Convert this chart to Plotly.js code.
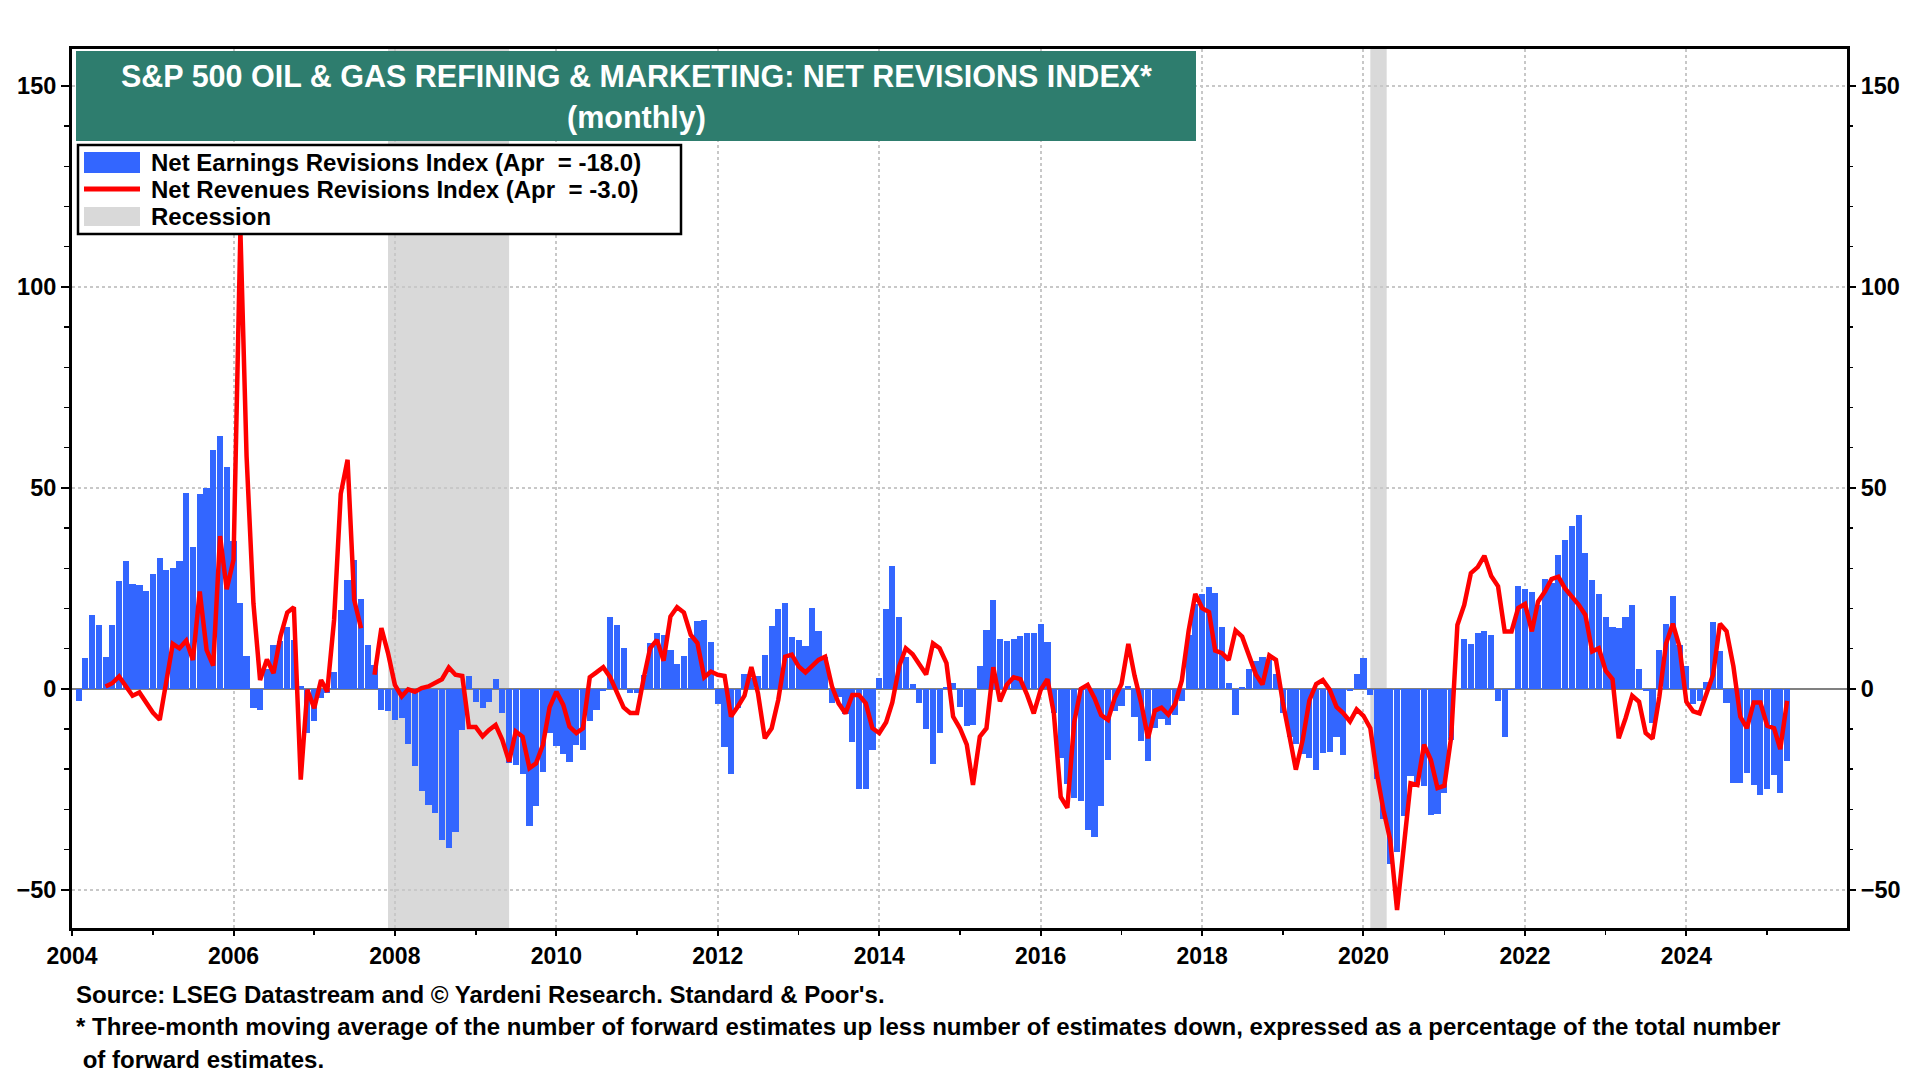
<!DOCTYPE html>
<html>
<head>
<meta charset="utf-8">
<script src="https://cdn.plot.ly/plotly-3.0.1.min.js"></script>
<style>
  html, body { margin: 0; padding: 0; background: #fff; }
  #fig { width: 1920px; height: 1080px; }
</style>
</head>
<body>
<div id="fig"></div>
<script>
// monthly series, first value = Jan 2004
const startYear = 2004;

// Net Earnings Revisions Index (blue bars)
const earnings = [
  null, -3.1, 7.6, 18.4, 15.8, 7.9, 15.8, 26.9, 31.7, 26, 25.9, 24.4,          // 2004
  28.5, 32.5, 29.6, 30, 31.7, 48.8, 35.2, 48.5, 50, 59.5, 63, 55.3,             // 2005
  36.7, 21.3, 8.2, -4.8, -5.2, 5, 11, 12, 15.5, 12.2, 0.6, -11,                 // 2006
  -8.1, -2.3, -1, 4.3, 19.7, 27.1, 32.1, 22.3, 11, 6, -5.2, -5.6,               // 2007
  -7.7, -7.3, -13.6, -19.3, -25.5, -28.8, -30.9, -37.6, -39.6, -35.7, -10.2, 3.2, // 2008
  -3.2, -4.8, -3.2, 2.4, -6, -18.5, -18.9, -21.1, -34.2, -29.1, -20.6, -11,     // 2009
  -14.3, -16.2, -18.1, -13.9, -15.2, -8.1, -5.2, -0.5, 17.8, 15.8, 10.1, -1,    // 2010
  -1, 3.5, 11.4, 13.8, 13.3, 9.7, 6.2, 8.3, 12.6, 16.9, 17.2, 11.7,             // 2011
  -3.7, -14.5, -21.1, -4.8, 3.7, 2.7, 3.3, 8.5, 15.7, 19.8, 21.3, 13,           // 2012
  12.2, 10.7, 20.2, 14.4, 8, -3.4, -2, -6.3, -13.3, -25, -25, -15.3,            // 2013
  2.7, 19.8, 30.6, 18, 8, 1.2, -3.5, -10.1, -18.8, -10.9, 0.5, 1.5,             // 2014
  -4.4, -9.3, -8.9, 5.6, 14.7, 22, 12.4, 11.8, 12.4, 13.2, 14, 14,              // 2015
  16.1, 11.6, -6.1, -17.3, -23.7, -27.2, -28, -35.2, -36.9, -29.2, -17.6, -5.4, // 2016
  -4.3, 0.6, -6.9, -12.9, -18, -9.7, -7.5, -9.1, -6.4, -3.1, 13.5, 21.1,        // 2017
  23.5, 25.3, 23.8, 15.5, 1.4, -6.6, 0.4, 5, 7, 8, 7.2, 3.7,                    // 2018
  -6, -11.9, -13.7, -16.3, -17.2, -20.1, -16, -15.7, -12, -16.4, -0.5, 3.7,     // 2019
  7.6, -1.5, -22.5, -32.4, -43.5, -40.7, -31.6, -21.8, -23.9, -24.1, -31.3, -31.1, // 2020
  -26, -12.7, 0, 12.4, 11.1, 13.8, 14.5, 13.4, -2.9, -11.9, -0.3, 25.5,         // 2021
  24.8, 24.2, 20.9, 27.3, 26.3, 33.3, 37, 40.4, 43.3, 33.7, 27, 23.5,           // 2022
  18, 15.5, 15.1, 18, 20.9, 4.9, -0.5, -8.5, 9.7, 16.2, 23.1, 10.9,             // 2023
  5.6, -3.7, -3, 1.8, 16.7, 9.3, -3.6, -23.5, -23.5, -21, -23.9, -26.4,         // 2024
  -25, -21.4, -26, -18                                                          // 2025
];

// Net Revenues Revisions Index (red line)
const revenues = [
  null, null, null, null, null, 0.6, 1.4, 3.1, 0.6, -1.7, -0.9, -3.2,          // 2004
  -5.9, -7.7, 0.6, 11.2, 10.1, 12, 7.2, 24.2, 9.7, 5.8, 38, 24.8,               // 2005
  32.1, 114, 57.8, 21.3, 2.2, 7.3, 3.9, 13, 19, 20.3, -22.6, -0.2,              // 2006
  -4.8, 2.2, -0.7, 17.2, 48.5, 57, 22.1, 15.1, null, 3.5, 15.1, 8.9,            // 2007
  1, -1.9, -0.1, -0.7, 0.2, 0.6, 1.4, 2.4, 5.3, 3.5, 3.2, -9.5,                 // 2008
  -9.5, -11.8, -10.3, -9, -12.7, -18.1, -10.6, -11.9, -19.7, -18.5, -13.9, -4.6, // 2009
  -0.7, -4, -9.4, -11, -9.8, 2.9, 4.1, 5.4, 2.9, -0.7, -4.6, -6,                // 2010
  -6, 2.9, 10.1, 12.2, 7, 18, 20.3, 19, 13.4, 11.4, 2.9, 4.3,                   // 2011
  3.5, 3.2, -6.9, -4.4, -1.7, 5.4, -1.1, -12.3, -9.8, -2.7, 8, 8.5,             // 2012
  5.6, 4.1, 5.7, 7.2, 8, 0.6, -3.6, -6.1, -1.5, -1.5, -3.6, -9.8,               // 2013
  -11, -8.3, -3.4, 5.6, 10.1, 8.6, 6.1, 3.6, 11.3, 10.1, 6.4, -6.9,             // 2014
  -9.8, -13.9, -23.9, -11.9, -9.8, 5.4, -3.1, 1, 2.9, 2.4, -1.5, -6.1,          // 2015
  -0.3, 2.4, -6.1, -26.9, -29.6, -8.3, 0, 1, -2.3, -6.5, -7.7, -2.3,            // 2016
  1.2, 11.2, 3.3, -3.7, -12.3, -5.4, -4.7, -6.4, -3.7, 2.1, 14.5, 23.6,         // 2017
  20.1, 19.1, 9.5, 8.9, 7.2, 14.5, 13, 8.5, 3.6, 1.1, 8.3, 7.2,                 // 2018
  -3.3, -12, -20.1, -12.7, -2.9, 1.2, 2.2, -0.2, -4.5, -6, -8.1, -5.1,          // 2019
  -6.7, -9.8, -21, -30.3, -37.6, -55, -40.5, -23.5, -23.9, -13.9, -17.7, -24.7, // 2020
  -24.1, -11.9, 15.9, 20.9, 28.8, 30.3, 33.1, 28.1, 25.5, 14.3, 14.3, 20.1,     // 2021
  21.1, 14.3, 21.7, 24.2, 27.3, 27.9, 25, 23.1, 20.9, 18.4, 9.3, 10.1,          // 2022
  4.5, 2.4, -12.3, -7.3, -1.7, -3.2, -11, -12.4, -1.9, 11.2, 16.2, 10.5,        // 2023
  -3.2, -5.6, -6.1, -1.2, 3.5, 16.2, 14.3, 5.6, -6.9, -9.8, -3.4, -3.4,         // 2024
  -9.2, -9.8, -15, -3                                                           // 2025
];

const recessions = [['2007-12-01', '2009-06-01'], ['2020-02-01', '2020-04-15']];

const yTicks = [-50, 0, 50, 100, 150];
const legendLabels = [
  'Net Earnings Revisions Index (Apr\u00a0 = -18.0)',
  'Net Revenues Revisions Index (Apr\u00a0 = -3.0)',
  'Recession'
];
const titleLines = ['S&P 500 OIL & GAS REFINING & MARKETING: NET REVISIONS INDEX*', '(monthly)'];
const footLines = [
  'Source: LSEG Datastream and \u00a9 Yardeni Research. Standard & Poor\'s.',
  '* Three-month moving average of the number of forward estimates up less number of estimates down, expressed as a percentage of the total number',
  '\u00a0of forward estimates.'
];

// month dates
const months = [];
for (let i = 0; i < earnings.length; i++) {
  const y = startYear + Math.floor(i / 12), m = i % 12 + 1;
  months.push(y + '-' + (m < 10 ? '0' + m : m) + '-01');
}

// pixel -> paper helpers (plot area is 72..1847 x 49..928)
const L = 72, R = 1847, T = 49, B = 928;
const px = x => (x - L) / (R - L);
const py = y => (B - y) / (B - T);

const FONT = 'Liberation Sans, Arial, sans-serif';
const BLUE = '#3366FF', RED = '#FF0000', GREY = '#D9D9D9';

const traces = [
  { x: months, y: earnings, type: 'bar', marker: { color: BLUE, line: { width: 0 } },
    showlegend: false, hoverinfo: 'x+y' },
  { x: months, y: revenues, type: 'scatter', mode: 'lines', connectgaps: false,
    line: { color: RED, width: 4.5 }, showlegend: false },
  // keeps the right-hand axis alive
  { x: [months[0]], y: [0], yaxis: 'y2', mode: 'markers', marker: { opacity: 0 },
    showlegend: false, hoverinfo: 'skip' }
];

const shapes = [];
recessions.forEach(r => shapes.push({
  type: 'rect', xref: 'x', yref: 'paper', x0: r[0], x1: r[1], y0: 0, y1: 1,
  fillcolor: GREY, line: { width: 0 }, layer: 'below'
}));
// title box
shapes.push({ type: 'rect', xref: 'paper', yref: 'paper', x0: px(76), x1: px(1196),
  y0: py(141), y1: py(51), fillcolor: '#2E7D6E', line: { width: 0 }, layer: 'above' });
// legend box + keys
shapes.push({ type: 'rect', xref: 'paper', yref: 'paper', x0: px(78), x1: px(681),
  y0: py(234), y1: py(145), fillcolor: '#fff', line: { color: '#000', width: 2.5 }, layer: 'above' });
shapes.push({ type: 'rect', xref: 'paper', yref: 'paper', x0: px(84), x1: px(140),
  y0: py(173), y1: py(152), fillcolor: BLUE, line: { width: 0 }, layer: 'above' });
shapes.push({ type: 'line', xref: 'paper', yref: 'paper', x0: px(84), x1: px(140),
  y0: py(189), y1: py(189), line: { color: RED, width: 5 }, layer: 'above' });
shapes.push({ type: 'rect', xref: 'paper', yref: 'paper', x0: px(84), x1: px(140),
  y0: py(226), y1: py(207), fillcolor: GREY, line: { width: 0 }, layer: 'above' });

const annotations = [];
const ann = (text, x, y, size, color, anchor) => annotations.push({
  text: text, xref: 'paper', yref: 'paper', x: px(x), y: py(y), showarrow: false,
  xanchor: anchor, yanchor: 'middle', font: { family: FONT, size: size, color: color, weight: 'bold' }
});
ann(titleLines[0], 636, 76, 30.5, '#fff', 'center');
ann(titleLines[1], 636, 117, 30.5, '#fff', 'center');
legendLabels.forEach((t, i) => ann(t, 149, 162 + i * 27, 24, '#000', 'left'));
ann(footLines[0], 74, 994, 24, '#000', 'left');
ann(footLines[1], 74, 1026, 24, '#000', 'left');
ann(footLines[2], 74, 1059, 24, '#000', 'left');

const yAxisBase = {
  range: [-59.5, 159.2], tickvals: yTicks, ticks: 'outside', ticklen: 8, tickwidth: 2,
  tickcolor: '#000', tickfont: { family: FONT, size: 23.5, color: '#000', weight: 'bold' },
  minor: { dtick: 10, tick0: 0, ticks: 'outside', ticklen: 5, tickwidth: 1.5, tickcolor: '#000', showgrid: false },
  fixedrange: true
};

const layout = {
  width: 1920, height: 1080,
  margin: { l: L, r: 1920 - R, t: T, b: 1080 - B },
  paper_bgcolor: '#fff', plot_bgcolor: '#fff',
  bargap: 0,
  showlegend: false,
  xaxis: {
    type: 'date', range: ['2004-01-01', '2025-12-28'],
    tick0: '2004-01-01', dtick: 'M24', tickformat: '%Y',
    ticks: 'outside', ticklen: 5, tickwidth: 2, tickcolor: '#000',
    minor: { dtick: 'M12', tick0: '2004-01-01', ticks: 'outside', ticklen: 4, tickwidth: 1.5, tickcolor: '#000', showgrid: false },
    showgrid: true, gridcolor: '#C8C8C8', griddash: 'dot', gridwidth: 2,
    showline: true, linecolor: '#000', linewidth: 3, mirror: true,
    tickfont: { family: FONT, size: 23, color: '#000', weight: 'bold' },
    zeroline: false, fixedrange: true
  },
  yaxis: Object.assign({}, yAxisBase, {
    showgrid: true, gridcolor: '#C8C8C8', griddash: 'dot', gridwidth: 2,
    zeroline: true, zerolinecolor: '#808080', zerolinewidth: 1.5,
    showline: true, linecolor: '#000', linewidth: 3, mirror: true
  }),
  yaxis2: Object.assign({}, yAxisBase, {
    overlaying: 'y', side: 'right', showgrid: false, zeroline: false, showline: false
  }),
  shapes: shapes,
  annotations: annotations
};

Plotly.newPlot('fig', traces, layout, { staticPlot: true });
</script>
</body>
</html>
